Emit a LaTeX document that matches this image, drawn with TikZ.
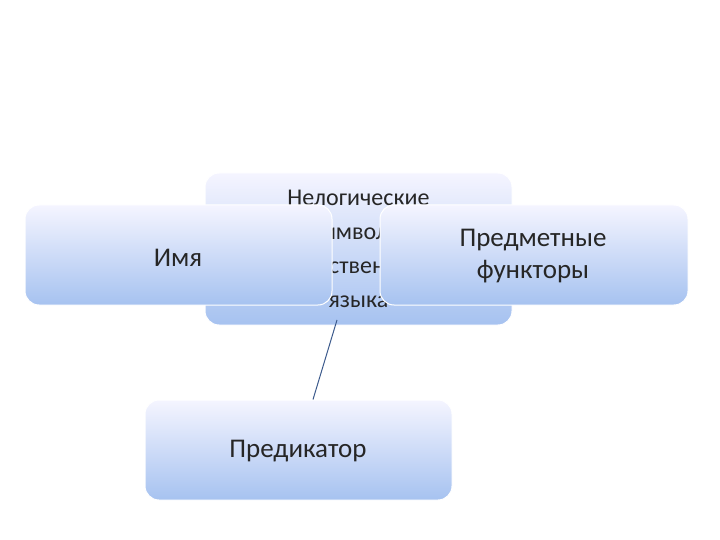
\documentclass[tikz,border=0pt]{standalone}
\usepackage{fontspec}
\setmainfont{Carlito}
\begin{document}
\begin{tikzpicture}[x=1pt,y=-1pt,
  box/.style={rounded corners=14pt, top color=blue!4!white, bottom color={rgb,255:red,166;green,194;blue,240},
    draw=white, line width=1pt, text=black!85, align=center, inner sep=0pt},
  lab/.style={text=black!85, font=\fontsize{27}{32}\selectfont, align=center}]
\useasboundingbox (0,0) rectangle (720,540);
\node[box, minimum width=307pt, minimum height=152pt, font=\fontsize{24}{34}\selectfont] (c) at (358.5,249) {Нелогические\\символы\\естественного\\языка};
\node[box, minimum width=307pt, minimum height=100pt] (a) at (178.5,255) {};
\node[lab] at (178,258) {Имя};
\node[box, minimum width=308pt, minimum height=100pt] (b) at (534,255) {};
\node[lab] at (533,256) {Предметные\\функторы};
\node[box, minimum width=307pt, minimum height=100pt] (p) at (298.5,450) {};
\node[lab] at (298,451) {Предикатор};
\coordinate (s) at (337,320);
\draw[line width=1pt, color={rgb,255:red,60;green,90;blue,140}] (s) -- (p.north -| 313,0);
\end{tikzpicture}
\end{document}
